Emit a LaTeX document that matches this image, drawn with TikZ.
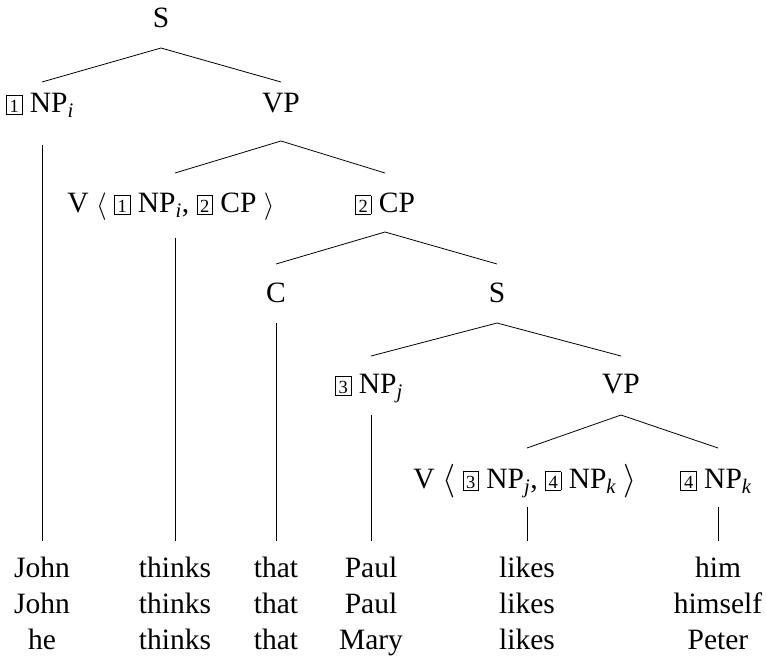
\documentclass[tikz,border=0pt]{standalone}
\usepackage{graphicx}
\usepackage{fontspec}
\setmainfont{Liberation Serif}
\usetikzlibrary{calc}
\newcommand{\bnum}[1]{{\setlength{\fboxsep}{0pt}\setlength{\fboxrule}{0.7pt}\fbox{\makebox[15pt][c]{\rule[-2pt]{0pt}{18pt}\fontsize{18.5}{18.5}\selectfont #1}}}}
\newcommand{\sbi}[1]{\textsubscript{\itshape #1}}
\newcommand{\lan}[1]{\raisebox{-0.06em}{\scalebox{#1}{$\langle$}}}
\newcommand{\ran}[1]{\raisebox{-0.06em}{\scalebox{#1}{$\rangle$}}}
\begin{document}
\begin{tikzpicture}[x=1pt,y=-1pt,
  lbl/.style={font=\fontsize{29.5}{36}\selectfont, inner sep=0pt, anchor=base},
  edge/.style={line width=0.8pt}]
\useasboundingbox (0,0) rectangle (766,656);
% tree nodes
\node[lbl] (S) at (161,27) {S};
\node[lbl] (NPi) at (40,112) {\bnum{1} NP\sbi{i}};
\node[lbl] (VPa) at (281,112) {VP};
\node[lbl] (Va) at (171,212) {V \lan{1.1} \bnum{1} NP\sbi{i}, \bnum{2} CP \ran{1.1}};
\node[lbl] (CP) at (385,212) {\bnum{2} CP};
\node[lbl] (C) at (276,302) {C};
\node[lbl] (Sb) at (497,302) {S};
\node[lbl] (NPj) at (369,393) {\bnum{3} NP\sbi{j}};
\node[lbl] (VPb) at (621,393) {VP};
\node[lbl] (Vb) at (525,488) {V \lan{1.35} \bnum{3} NP\sbi{j}, \bnum{4} NP\sbi{k} \ran{1.35}};
\node[lbl] (NPk) at (716,488) {\bnum{4} NP\sbi{k}};
% words
\foreach \n/\x/\a/\b/\c in {wa/42/John/John/he, wb/175/thinks/thinks/thinks, wc/276/that/that/that, wd/371/Paul/Paul/Mary, we/527/likes/likes/likes, wf/718/him/himself/Peter}{
  \node[lbl] (\n1) at (\x,577) {\a};
  \node[lbl] (\n2) at (\x,613) {\b};
  \node[lbl] (\n3) at (\x,649) {\c};
}
% branches
\draw[edge] ($(NPi.base)+(2,-30)$) -- ($(S.base)+(0,21)$) -- ($(VPa.base)+(0,-30)$);
\draw[edge] ($(Va.base)+(4,-39)$) -- ($(VPa.base)+(0,29)$) -- ($(CP.base)+(0,-39)$);
\draw[edge] ($(C.base)+(0,-38)$) -- ($(CP.base)+(0,20)$) -- ($(Sb.base)+(0,-38)$);
\draw[edge] ($(NPj.base)+(2,-37)$) -- ($(Sb.base)+(0,21)$) -- ($(VPb.base)+(0,-37)$);
\draw[edge] ($(Vb.base)+(2,-40)$) -- ($(VPb.base)+(0,22)$) -- ($(NPk.base)+(2,-40)$);
% vertical lines to words
\draw[edge] ([yshift=-33pt]wa1.base |- NPi.base) -- ($(wa1.base)+(0,-36)$);
\draw[edge] ([yshift=-26pt]wb1.base |- Va.base) -- ($(wb1.base)+(0,-36)$);
\draw[edge] ([yshift=-21pt]wc1.base |- C.base) -- ($(wc1.base)+(0,-36)$);
\draw[edge] ([yshift=-22pt]wd1.base |- NPj.base) -- ($(wd1.base)+(0,-36)$);
\draw[edge] ([yshift=-19pt]we1.base |- Vb.base) -- ($(we1.base)+(0,-36)$);
\draw[edge] ([yshift=-19pt]wf1.base |- NPk.base) -- ($(wf1.base)+(0,-36)$);
\end{tikzpicture}
\end{document}
